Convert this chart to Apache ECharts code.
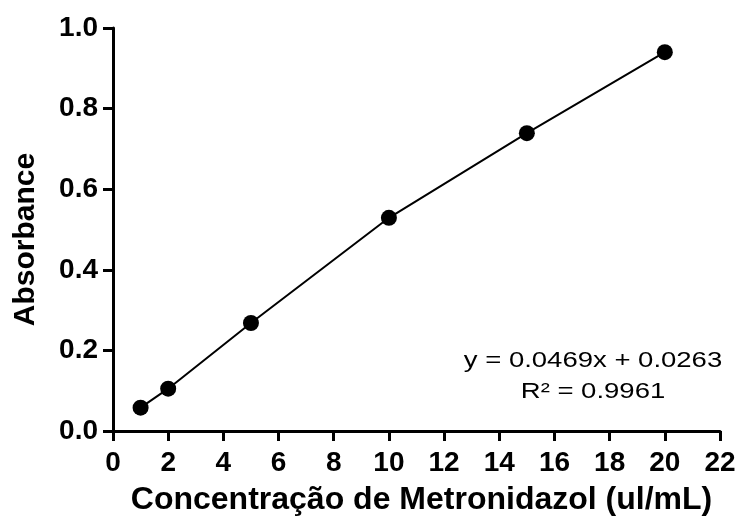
<!DOCTYPE html>
<html>
<head>
<meta charset="utf-8">
<script src="https://cdn.jsdelivr.net/npm/echarts@6/dist/echarts.min.js"></script>
<style>
html,body{margin:0;padding:0;background:#fff;}
#chart{width:739px;height:524px;}
</style>
</head>
<body>
<div id="chart"></div>
<script>
const concentrations = [1, 2, 5, 10, 15, 20];
const absorbance = [0.058, 0.105, 0.268, 0.529, 0.739, 0.94];
const xTicks = {min: 0, max: 22, interval: 2};
const yTicks = {min: 0, max: 1, interval: 0.2};
const equationLines = ['y = 0.0469x + 0.0263', 'R² = 0.9961'];

const FONT = '"Liberation Sans", Arial, sans-serif';
const chart = echarts.init(document.getElementById('chart'));
chart.setOption({
  animation: false,
  backgroundColor: '#fff',
  grid: {left: 113, right: 19, top: 28, bottom: 93, containLabel: false},
  xAxis: {
    type: 'value', min: xTicks.min, max: xTicks.max, interval: xTicks.interval,
    name: 'Concentração de Metronidazol (ul/mL)',
    nameLocation: 'middle', nameGap: 53,
    nameTextStyle: {fontFamily: FONT, fontWeight: 'bold', fontSize: 32, color: '#000', padding: [0, 0, 0, 10]},
    axisLine: {show: true, onZero: false, lineStyle: {color: '#000', width: 3}},
    axisTick: {show: true, inside: false, length: 10, lineStyle: {color: '#000', width: 3}},
    axisLabel: {margin: 18, fontFamily: FONT, fontWeight: 'bold', fontSize: 28, color: '#000'},
    splitLine: {show: false}
  },
  yAxis: {
    type: 'value', min: yTicks.min, max: yTicks.max, interval: yTicks.interval,
    name: 'Absorbance',
    nameLocation: 'middle', nameGap: 72,
    nameTextStyle: {fontFamily: FONT, fontWeight: 'bold', fontSize: 30, color: '#000', padding: [0, 20, 0, 0]},
    axisLine: {show: true, onZero: false, lineStyle: {color: '#000', width: 3}},
    axisTick: {show: true, inside: false, length: 10, lineStyle: {color: '#000', width: 3}},
    axisLabel: {margin: 15, fontFamily: FONT, fontWeight: 'bold', fontSize: 28, color: '#000',
      formatter: v => v.toFixed(1)},
    splitLine: {show: false}
  },
  series: [{
    type: 'line',
    data: concentrations.map((c, i) => [c, absorbance[i]]),
    symbol: 'circle', symbolSize: 16,
    itemStyle: {color: '#000'},
    lineStyle: {color: '#000', width: 2},
    z: 3
  }],
  graphic: [
    {type: 'text', x: 593, y: 361, scaleX: 1.25, style: {text: equationLines[0],
      fontFamily: FONT, fontSize: 22, fill: '#000', align: 'center', verticalAlign: 'middle'}},
    {type: 'text', x: 593, y: 392, scaleX: 1.25, style: {text: equationLines[1],
      fontFamily: FONT, fontSize: 22, fill: '#000', align: 'center', verticalAlign: 'middle'}}
  ]
});
</script>
</body>
</html>
